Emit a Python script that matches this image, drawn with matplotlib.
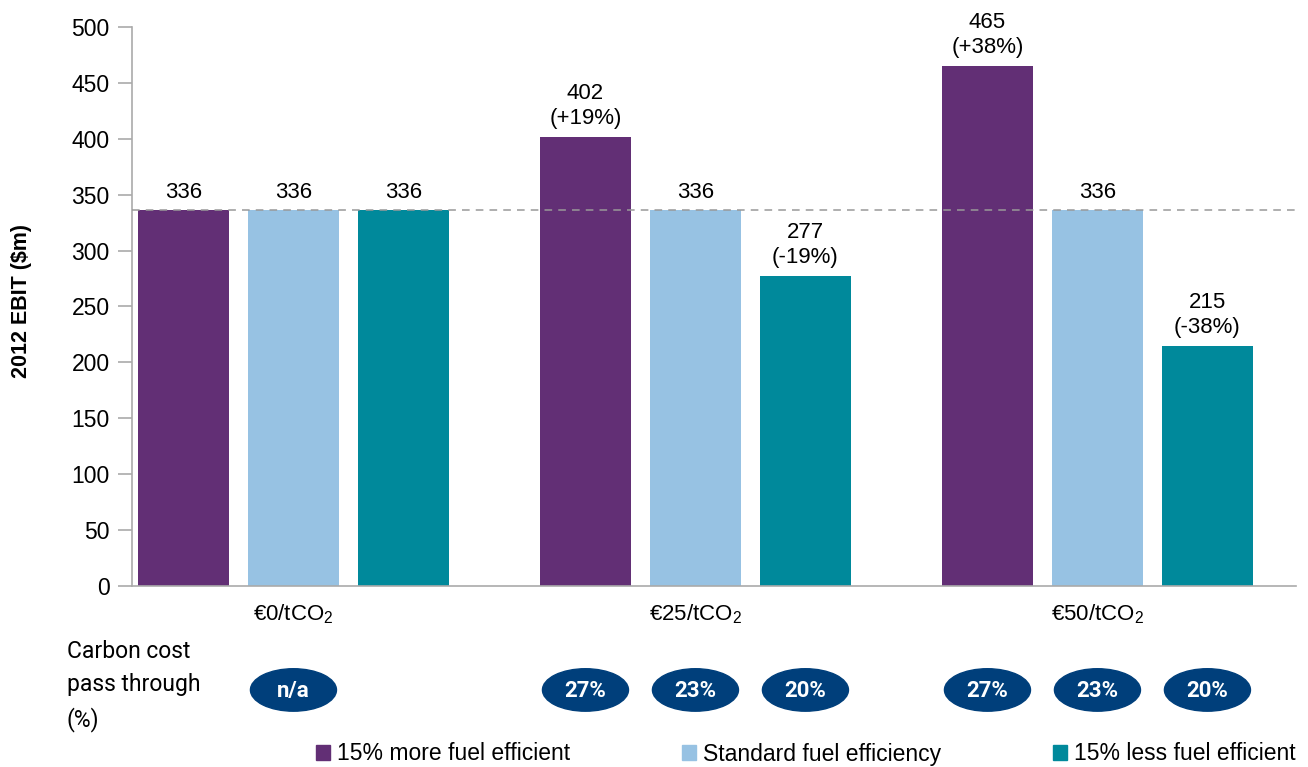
import numpy as np
import matplotlib
matplotlib.use('Agg')
import matplotlib.pyplot as plt
import matplotlib.transforms as mtransforms
from matplotlib.patches import Ellipse, Patch

plt.rcParams['font.family'] = ['Liberation Sans', 'DejaVu Sans']
plt.rcParams['mathtext.fontset'] = 'custom'
plt.rcParams['mathtext.rm'] = 'Liberation Sans'
plt.rcParams['mathtext.it'] = 'Liberation Sans'

# Data
# ----
categories = ['€0/tCO$_2$', '€25/tCO$_2$', '€50/tCO$_2$']
series = ['15% more fuel efficient', 'Standard fuel efficiency',
          '15% less fuel efficient']
ebit = [[336, 402, 465],
        [336, 336, 336],
        [336, 277, 215]]
labels = [['336', '402\n(+19%)', '465\n(+38%)'],
          ['336', '336', '336'],
          ['336', '277\n(-19%)', '215\n(-38%)']]
pass_through = [['n/a'], ['27%', '23%', '20%'], ['27%', '23%', '20%']]
baseline = 336
colors = ['#622F75', '#97C2E3', '#00899B']
oval_color = '#003F7B'
narrow = ['Roboto', 'Liberation Sans', 'DejaVu Sans']

# Plot
# ----
fig = plt.figure(figsize=(13.08, 7.67), dpi=100)
ax = fig.add_axes([0.1009, 0.2360, 0.8899, 0.7288])

x = np.arange(len(categories))
step = 0.2736
width = 0.2264
for i, (vals, lbls) in enumerate(zip(ebit, labels)):
    xs = x + (i - 1) * step
    ax.bar(xs, vals, width=width, color=colors[i], label=series[i], zorder=2)
    for xi, v, lb in zip(xs, vals, lbls):
        ax.text(xi, v + 7, lb, ha='center', va='bottom', fontsize=16,
                linespacing=1.25)

ax.axhline(baseline, color='#999999', ls=(0, (5, 4)), lw=1.1, zorder=3)

ax.set_xlim(-0.4017, 2.4938)
ax.set_ylim(0, 500)
ax.set_yticks(np.arange(0, 501, 50))
ax.set_xticks(x)
ax.set_xticklabels(categories, fontsize=16)
ax.tick_params(axis='x', length=0, pad=12)
ax.tick_params(axis='y', length=10, color='#AAAAAA', width=1.2,
               labelsize=16.5, pad=6)
for side in ['top', 'right']:
    ax.spines[side].set_visible(False)
for side in ['left', 'bottom']:
    ax.spines[side].set_color('#AAAAAA')
    ax.spines[side].set_linewidth(1.2)

ax.set_ylabel('2012 EBIT ($m)', fontsize=15.5, fontweight='bold')
ax.yaxis.set_label_coords(-0.086, 0.51)

# Pass-through ovals below each bar
trans = mtransforms.blended_transform_factory(ax.transData, ax.transAxes)
for g, vals in enumerate(pass_through):
    if len(vals) == 1:
        xs = [x[g]]
    else:
        xs = x[g] + (np.arange(len(vals)) - 1) * step
    for xi, txt in zip(xs, vals):
        ax.add_patch(Ellipse((xi, -0.186), 0.214, 0.076, transform=trans,
                             color=oval_color, clip_on=False))
        ax.text(xi, -0.188, txt, transform=trans, ha='center', va='center',
                color='white', fontsize=16, fontweight='bold', family=narrow)

fig.text(67 / 1308, 1 - 686 / 767, 'Carbon cost\npass through\n(%)',
         ha='left', va='center', fontsize=16.5, linespacing=1.55, family=narrow)

handles = [Patch(color=c) for c in colors]
fig.legend(handles, series, ncol=3, loc='center',
           bbox_to_anchor=(806 / 1308, 1 - 754 / 767), frameon=False,
           fontsize=16.5, handlelength=0.6, handleheight=0.6,
           handletextpad=0.3, columnspacing=4.9, borderpad=0)

plt.savefig('out.png', dpi=100)
